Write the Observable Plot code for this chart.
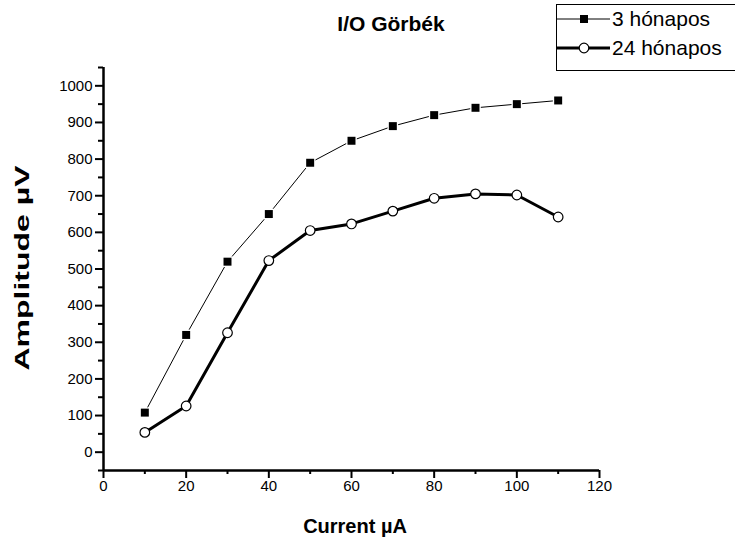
<!DOCTYPE html>
<html>
<head>
<meta charset="utf-8">
<script src="https://cdn.jsdelivr.net/npm/d3@7"></script>
<script src="https://cdn.jsdelivr.net/npm/@observablehq/plot@0.6"></script>
<style>
  html, body { margin: 0; padding: 0; background: #fff; }
  #chart { width: 735px; height: 541px; overflow: hidden; }
  svg { display: block; }
</style>
</head>
<body>
<div id="chart"></div>
<script>
// ---- data ----
const currents = [10, 20, 30, 40, 50, 60, 70, 80, 90, 100, 110];
const months3 = [108, 320, 520, 650, 790, 850, 890, 920, 940, 950, 960];
const months24 = [54, 126, 326, 523, 605, 623, 658, 693, 705, 702, 642];
const seriesNames = ["3 hónapos", "24 hónapos"];
const titleText = "I/O Görbék";
const xLabel = "Current \u00B5A";
const yLabel = "Amplitude \u00B5V";
const xTicks = [0, 20, 40, 60, 80, 100, 120];
const xMinorTicks = [10, 30, 50, 70, 90, 110];
const yTicks = [0, 100, 200, 300, 400, 500, 600, 700, 800, 900, 1000];
const yMinorTicks = [-50, 50, 150, 250, 350, 450, 550, 650, 750, 850, 950, 1050];

const data3 = currents.map((c, i) => ({x: c, y: months3[i]}));
const data24 = currents.map((c, i) => ({x: c, y: months24[i]}));

const FONT = "'Liberation Sans', Arial, Helvetica, sans-serif";

const chart = Plot.plot({
  width: 735,
  height: 541,
  marginLeft: 103,
  marginRight: 136,
  marginTop: 67,
  marginBottom: 71,
  style: {fontFamily: FONT, fontSize: "15px", color: "#000", background: "#fff", overflow: "visible"},
  x: {domain: [0, 120]},
  y: {domain: [-50, 1050]},
  marks: [
    Plot.axisX(xTicks, {tickSize: 8, tickPadding: 2, strokeWidth: 2, label: null, fontSize: 15, tickFormat: d3.format("d")}),
    Plot.axisX(xMinorTicks, {tickSize: 4, strokeWidth: 2, text: null, label: null}),
    Plot.axisY(yTicks, {tickSize: 8, tickPadding: 3, strokeWidth: 2, label: null, fontSize: 15, tickFormat: d3.format("d")}),
    Plot.axisY(yMinorTicks, {tickSize: 5, strokeWidth: 2, text: null, label: null}),
    Plot.ruleX([0], {stroke: "#000", strokeWidth: 2.5}),
    Plot.ruleY([-50], {stroke: "#000", strokeWidth: 2.5}),
    Plot.line(data3, {x: "x", y: "y", stroke: "#000", strokeWidth: 1}),
    Plot.line(data24, {x: "x", y: "y", stroke: "#000", strokeWidth: 3}),
    Plot.dot(data3, {x: "x", y: "y", symbol: "square", r: 6, fill: "#fff", stroke: "none"}),
    Plot.dot(data3, {x: "x", y: "y", symbol: "square", r: 4.5, fill: "#000", stroke: "none"}),
    Plot.dot(data24, {x: "x", y: "y", r: 4.8, fill: "#fff", stroke: "#000", strokeWidth: 1.2})
  ]
});

document.getElementById("chart").appendChild(chart);

const svg = d3.select(chart);

// title
svg.append("text")
  .attr("x", 391).attr("y", 31)
  .attr("text-anchor", "middle")
  .style("font-family", FONT).style("font-size", "21px").style("font-weight", "bold")
  .attr("fill", "#000")
  .text(titleText);

// x axis title
svg.append("text")
  .attr("x", 355).attr("y", 533)
  .attr("text-anchor", "middle")
  .style("font-family", FONT).style("font-size", "20px").style("font-weight", "bold")
  .attr("fill", "#000")
  .text(xLabel);

// y axis title
svg.append("text")
  .attr("transform", "translate(29,268) rotate(-90)")
  .attr("text-anchor", "middle")
  .attr("textLength", 205)
  .attr("lengthAdjust", "spacingAndGlyphs")
  .style("font-family", FONT).style("font-size", "20px").style("font-weight", "bold")
  .attr("fill", "#000")
  .text(yLabel);

// legend
const lg = svg.append("g").attr("text-anchor", "start");
lg.append("rect")
  .attr("x", 556.5).attr("y", 4.5).attr("width", 200).attr("height", 66)
  .attr("fill", "#fff").attr("stroke", "#000").attr("stroke-width", 1);
const legendRows = [
  {name: seriesNames[0], y: 19, sw: 1, sym: "square"},
  {name: seriesNames[1], y: 48, sw: 3, sym: "circle"}
];
legendRows.forEach(r => {
  lg.append("line").attr("x1", 557).attr("x2", 610).attr("y1", r.y).attr("y2", r.y)
    .attr("stroke", "#000").attr("stroke-width", r.sw);
  if (r.sym === "square") {
    lg.append("rect").attr("x", 580).attr("y", r.y - 4).attr("width", 8).attr("height", 8).attr("fill", "#000");
  } else {
    lg.append("circle").attr("cx", 584).attr("cy", r.y).attr("r", 4.8)
      .attr("fill", "#fff").attr("stroke", "#000").attr("stroke-width", 1.2);
  }
  lg.append("text").attr("x", 612).attr("y", r.y + 7)
    .attr("text-anchor", "start")
    .style("font-family", FONT).style("font-size", "21px")
    .attr("fill", "#000").text(r.name);
});
</script>
</body>
</html>
